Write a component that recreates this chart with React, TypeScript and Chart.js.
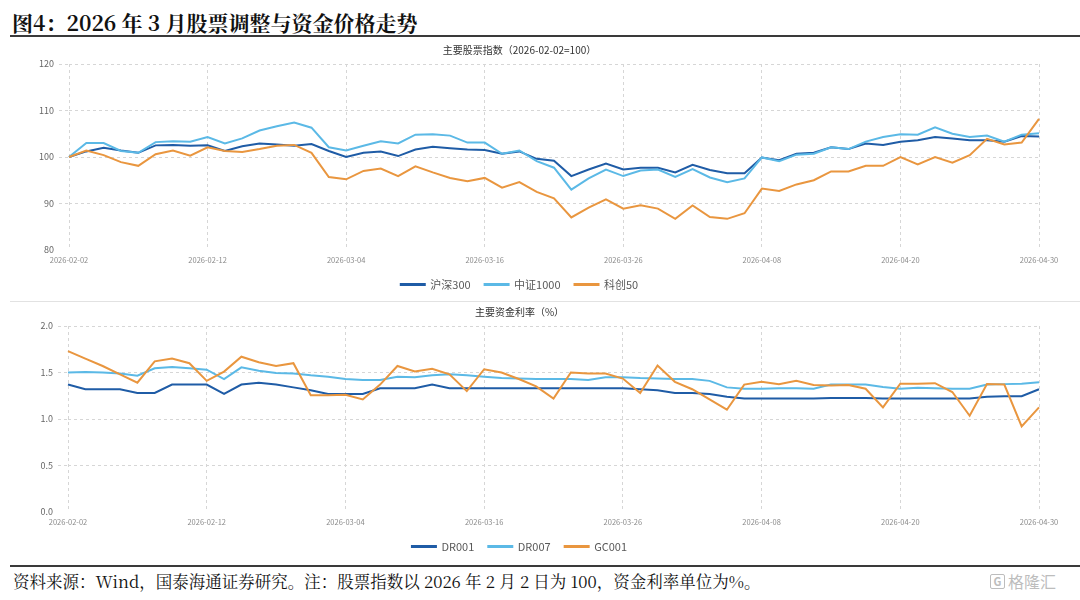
import React, { useEffect, useRef } from "react";
import { Chart, registerables } from "chart.js";

Chart.register(...registerables);

// ---------- data ----------
const dates = [
  "2026-02-02", "2026-02-03", "2026-02-04", "2026-02-05", "2026-02-06", "2026-02-09", "2026-02-10", "2026-02-11",
  "2026-02-12", "2026-02-13", "2026-02-24", "2026-02-25", "2026-02-26", "2026-02-27", "2026-03-02", "2026-03-03",
  "2026-03-04", "2026-03-05", "2026-03-06", "2026-03-09", "2026-03-10", "2026-03-11", "2026-03-12", "2026-03-13",
  "2026-03-16", "2026-03-17", "2026-03-18", "2026-03-19", "2026-03-20", "2026-03-23", "2026-03-24", "2026-03-25",
  "2026-03-26", "2026-03-27", "2026-03-30", "2026-03-31", "2026-04-01", "2026-04-02", "2026-04-03", "2026-04-07",
  "2026-04-08", "2026-04-09", "2026-04-10", "2026-04-13", "2026-04-14", "2026-04-15", "2026-04-16", "2026-04-17",
  "2026-04-20", "2026-04-21", "2026-04-22", "2026-04-23", "2026-04-24", "2026-04-27", "2026-04-28", "2026-04-29",
  "2026-04-30",
];

const hs300 = [
  100, 101.2, 102.0, 101.4, 100.9, 102.5, 102.6, 102.4, 102.5, 101.3, 102.3, 102.9, 102.7, 102.4, 102.8, 101.3,
  100.0, 100.9, 101.2, 100.2, 101.6, 102.2, 101.9, 101.6, 101.5, 100.7, 101.2, 99.6, 99.2, 95.9, 97.3, 98.6,
  97.3, 97.7, 97.7, 96.7, 98.3, 97.2, 96.5, 96.5, 99.9, 99.3, 100.7, 100.9, 102.1, 101.7, 102.9, 102.6,
  103.3, 103.6, 104.3, 104.0, 103.6, 103.6, 103.3, 104.5, 104.4,
];

const csi1000 = [
  100, 103.0, 103.0, 101.3, 100.9, 103.2, 103.4, 103.3, 104.3, 102.9, 104.0, 105.7, 106.6, 107.4, 106.3, 102.1,
  101.4, 102.4, 103.4, 102.9, 104.8, 104.9, 104.6, 103.1, 103.1, 100.7, 101.4, 99.1, 97.7, 93.0, 95.4, 97.3,
  95.9, 97.1, 97.3, 95.7, 97.4, 95.6, 94.6, 95.4, 99.9, 99.1, 100.5, 100.7, 102.1, 101.7, 103.3, 104.3,
  104.9, 104.8, 106.4, 105.0, 104.3, 104.6, 103.3, 104.8, 105.1,
];

const star50 = [
  100, 101.4, 100.4, 98.9, 98.1, 100.6, 101.4, 100.3, 102.1, 101.3, 101.1, 101.7, 102.4, 102.6, 100.9, 95.7,
  95.2, 97.0, 97.5, 95.9, 98.0, 96.7, 95.5, 94.8, 95.5, 93.4, 94.6, 92.5, 91.1, 87.0, 89.1, 90.9,
  88.9, 89.6, 88.9, 86.7, 89.6, 87.1, 86.7, 87.9, 93.2, 92.7, 94.1, 95.0, 96.9, 96.9, 98.1, 98.1,
  100.0, 98.4, 100.0, 98.8, 100.4, 103.9, 102.7, 103.1, 108.2,
];

const dr001 = [
  1.37, 1.32, 1.32, 1.32, 1.28, 1.28, 1.37, 1.37, 1.37, 1.27, 1.37, 1.39, 1.37, 1.34, 1.31, 1.27,
  1.27, 1.27, 1.33, 1.33, 1.33, 1.37, 1.33, 1.33, 1.33, 1.33, 1.33, 1.33, 1.33, 1.33, 1.33, 1.33,
  1.33, 1.32, 1.31, 1.28, 1.28, 1.27, 1.24, 1.22, 1.22, 1.22, 1.22, 1.22, 1.225, 1.225, 1.225, 1.22,
  1.22, 1.22, 1.22, 1.22, 1.22, 1.24, 1.245, 1.245, 1.32,
];

const dr007 = [
  1.50, 1.505, 1.50, 1.49, 1.465, 1.545, 1.56, 1.545, 1.53, 1.43, 1.555, 1.52, 1.495, 1.49, 1.47, 1.455,
  1.43, 1.42, 1.42, 1.455, 1.45, 1.47, 1.48, 1.47, 1.455, 1.44, 1.435, 1.43, 1.43, 1.43, 1.42, 1.45,
  1.45, 1.44, 1.435, 1.43, 1.43, 1.41, 1.34, 1.325, 1.325, 1.33, 1.33, 1.325, 1.37, 1.37, 1.37, 1.345,
  1.325, 1.335, 1.33, 1.325, 1.325, 1.37, 1.375, 1.38, 1.395,
];

const gc001 = [
  1.73, 1.65, 1.57, 1.48, 1.39, 1.62, 1.65, 1.60, 1.41, 1.51, 1.67, 1.61, 1.57, 1.60, 1.255, 1.255,
  1.26, 1.21, 1.37, 1.57, 1.51, 1.54, 1.48, 1.30, 1.535, 1.50, 1.43, 1.35, 1.22, 1.50, 1.49, 1.49,
  1.435, 1.28, 1.575, 1.40, 1.32, 1.21, 1.10, 1.37, 1.40, 1.375, 1.41, 1.365, 1.36, 1.365, 1.325, 1.125,
  1.38, 1.38, 1.385, 1.29, 1.035, 1.375, 1.37, 0.92, 1.125,
];

const stockNames = ["沪深300", "中证1000", "科创50"];
const rateNames = ["DR001", "DR007", "GC001"];
const stockTicks = [80, 90, 100, 110, 120];
const rateTicks = [0, 0.5, 1.0, 1.5, 2.0];

const pageTitle = "图4：2026 年 3 月股票调整与资金价格走势";
const stockTitle = "主要股票指数（2026-02-02=100）";
const rateTitle = "主要资金利率（%）";
const footer = "资料来源：Wind，国泰海通证券研究。注：股票指数以 2026 年 2 月 2 日为 100，资金利率单位为%。";

// ---------- styles ----------
const COLORS = ["#1F5CA6", "#5BB9E6", "#E9963F"];
const GRID = "#d6d6d6";
const SANS = '"Noto Sans CJK SC", "Noto Sans", sans-serif';
const SERIF = '"Noto Serif CJK SC", "Liberation Serif", "DejaVu Serif", "Noto Sans CJK SC", serif';
const LABEL_EVERY = 8;

function buildConfig(
  names: string[],
  series: number[][],
  title: string,
  ticks: number[],
  decimals: number,
  titlePad: { top: number; bottom: number },
  yWidth: number
): any {
  const step = ticks[1] - ticks[0];
  return {
    type: "line",
    data: {
      labels: dates,
      datasets: series.map((s, i) => ({
        label: names[i],
        data: s,
        borderColor: COLORS[i],
        backgroundColor: COLORS[i],
        borderWidth: 2,
        pointRadius: 0,
        tension: 0,
        order: series.length - i,
      })),
    },
    options: {
      responsive: false,
      maintainAspectRatio: false,
      animation: false,
      layout: { padding: { left: 0, right: 41, top: 0, bottom: 0 } },
      plugins: {
        title: {
          display: true,
          text: title,
          color: "#333333",
          font: { family: SANS, size: 10, weight: "normal" },
          padding: titlePad,
        },
        legend: {
          position: "bottom",
          labels: {
            boxWidth: 24,
            boxHeight: 1,
            padding: 14,
            color: "#595959",
            font: { family: SANS, size: 11 },
            sort: (a: any, b: any) => a.datasetIndex - b.datasetIndex,
          },
        },
        tooltip: { enabled: false },
      },
      scales: {
        x: {
          type: "category",
          border: { display: false, dash: [3, 3] },
          grid: { color: GRID, lineWidth: 1, drawTicks: false },
          ticks: {
            autoSkip: false,
            maxRotation: 0,
            minRotation: 0,
            padding: 6,
            color: "#8a8a8a",
            font: { family: SANS, size: 7.5 },
            callback: (_v: any, idx: number) => (idx % LABEL_EVERY === 0 ? dates[idx] : null),
          },
          afterFit: (scale: any) => {
            scale.height = 15;
          },
        },
        y: {
          min: ticks[0],
          max: ticks[ticks.length - 1],
          border: { display: false, dash: [3, 3] },
          grid: {
            color: (c: any) => (c.index === 0 ? "rgba(0,0,0,0)" : GRID),
            tickColor: (c: any) => (c.index === 0 ? "rgba(0,0,0,0)" : GRID),
            tickBorderDash: [3, 3],
            tickLength: 10,
            drawTicks: true,
            lineWidth: 1,
          },
          ticks: {
            stepSize: step,
            padding: 5,
            color: "#666666",
            font: { family: SANS, size: 9 },
            callback: (v: any) => Number(v).toFixed(decimals),
          },
          afterFit: (scale: any) => {
            scale.width = yWidth;
          },
        },
      },
    },
  };
}

function ChartCanvas(props: { config: () => any; top: number; height: number }) {
  const ref = useRef<HTMLCanvasElement | null>(null);
  useEffect(() => {
    if (!ref.current) return;
    const chart = new Chart(ref.current, props.config());
    return () => chart.destroy();
  }, []);
  return (
    <canvas
      ref={ref}
      width={1080}
      height={props.height}
      style={{ position: "absolute", left: 0, top: props.top, width: 1080, height: props.height }}
    />
  );
}

export default function App() {
  return (
    <div
      style={{
        position: "absolute",
        left: 0,
        top: 0,
        width: 1080,
        height: 600,
        background: "#ffffff",
        overflow: "hidden",
      }}
    >
      <div
        style={{
          position: "absolute",
          left: 12,
          top: 8,
          fontFamily: SERIF,
          fontWeight: 700,
          fontSize: 21,
          lineHeight: "28px",
          color: "#111111",
          whiteSpace: "nowrap",
        }}
      >
        {pageTitle}
      </div>
      <div style={{ position: "absolute", left: 10, top: 35, width: 1070, height: 2, background: "#3a3a3a" }} />

      <ChartCanvas
        top={38}
        height={262}
        config={() =>
          buildConfig(stockNames, [hs300, csi1000, star50], stockTitle, stockTicks, 0, { top: 6, bottom: 8 }, 69)
        }
      />

      <div style={{ position: "absolute", left: 10, top: 301, width: 1070, height: 1, background: "#e2e2e2" }} />

      <ChartCanvas
        top={301}
        height={261}
        config={() =>
          buildConfig(rateNames, [dr001, dr007, gc001], rateTitle, rateTicks, 1, { top: 5, bottom: 8 }, 68)
        }
      />

      <div style={{ position: "absolute", left: 10, top: 565, width: 1070, height: 1.5, background: "#3a3a3a" }} />
      <div
        style={{
          position: "absolute",
          left: 13,
          top: 570,
          fontFamily: SERIF,
          fontSize: 16.5,
          lineHeight: "22px",
          color: "#111111",
          whiteSpace: "nowrap",
        }}
      >
        {footer}
      </div>
      <div
        style={{
          position: "absolute",
          left: 990,
          top: 571,
          display: "flex",
          alignItems: "center",
          gap: 3,
          color: "#bdbdbd",
          fontFamily: SANS,
          fontSize: 16,
          lineHeight: "20px",
        }}
      >
        <span
          style={{
            display: "inline-block",
            width: 13,
            height: 13,
            border: "1.5px solid #bdbdbd",
            borderRadius: 2,
            fontSize: 11,
            lineHeight: "13px",
            textAlign: "center",
            fontWeight: 700,
          }}
        >
          G
        </span>
        <span>格隆汇</span>
      </div>
    </div>
  );
}
